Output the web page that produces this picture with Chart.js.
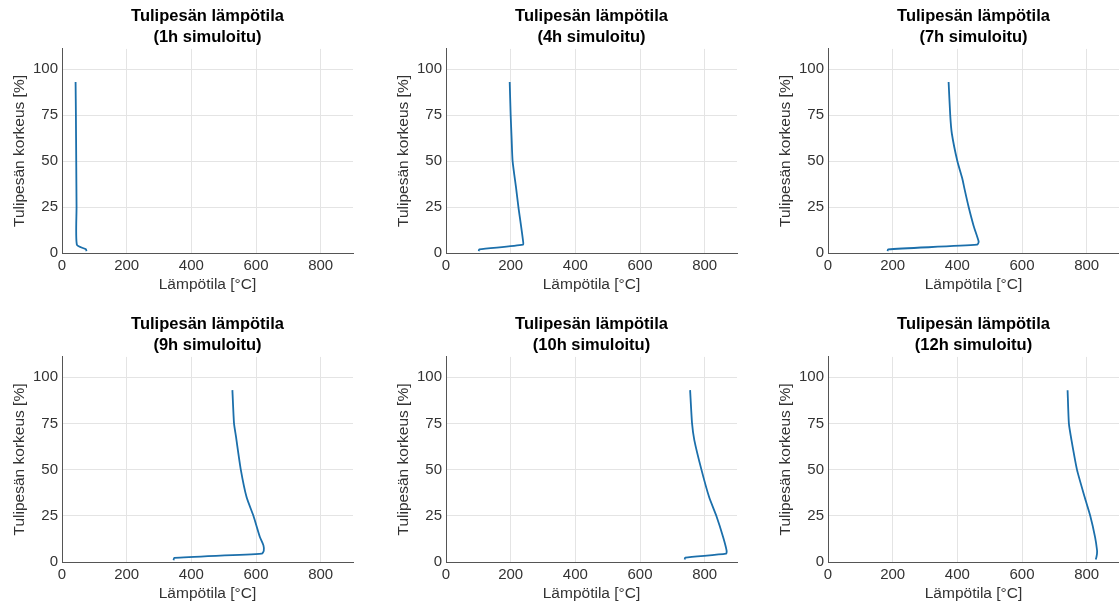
<!DOCTYPE html>
<html>
<head>
<meta charset="utf-8">
<script src="https://cdn.jsdelivr.net/npm/chart.js@4.4.1/dist/chart.umd.min.js"></script>
<style>
  html, body { margin: 0; padding: 0; background: #fff; }
  body { position: relative; width: 1119px; height: 608px; overflow: hidden; }
  canvas { position: absolute; }
</style>
</head>
<body>
<canvas id="c0"></canvas>
<canvas id="c1"></canvas>
<canvas id="c2"></canvas>
<canvas id="c3"></canvas>
<canvas id="c4"></canvas>
<canvas id="c5"></canvas>
<script>
// simulointiajat
const ajat = ["1h", "4h", "7h", "9h", "10h", "12h"];

// korkeus [%] ja lämpötila [°C] jokaiselle ajalle
const korkeus_1h = [1, 2, 4.5, 25, 50, 75, 93];
const lampo_1h   = [76, 74, 46, 45, 44, 43, 42];

const korkeus_4h = [1, 2, 4.5, 7, 25, 35, 50, 62, 75, 93];
const lampo_4h   = [101, 103, 238, 238, 224, 217, 206, 203, 200, 197];

const korkeus_7h = [1, 2, 4.5, 6, 8, 15, 25, 35, 40, 50, 65, 75, 93];
const lampo_7h   = [184, 186, 461, 466, 463, 450, 435, 422, 416, 400, 383, 378, 373];

const korkeus_9h = [1, 2.2, 4.5, 6, 9, 13.5, 25, 35, 50, 68, 75, 93];
const lampo_9h   = [345, 347, 618, 624, 623, 612, 592, 571, 553, 538, 532, 527];

const korkeus_10h = [1.3, 2.4, 4.5, 6, 13.5, 25, 35, 50, 66, 75, 93];
const lampo_10h   = [738, 740, 866, 868, 857, 836, 814, 790, 768, 761, 755];

const korkeus_12h = [1.3, 2.5, 4.5, 6.5, 13.5, 25, 35, 50, 66, 75, 93];
const lampo_12h   = [828, 830, 832, 832, 826, 811, 794, 770, 753, 745, 741];

const xTicks = [0, 200, 400, 600, 800];
const yTicks = [0, 25, 50, 75, 100];

const sarjat = [
  [korkeus_1h, lampo_1h],
  [korkeus_4h, lampo_4h],
  [korkeus_7h, lampo_7h],
  [korkeus_9h, lampo_9h],
  [korkeus_10h, lampo_10h],
  [korkeus_12h, lampo_12h],
];

const FONT = "'Liberation Sans', Arial, Helvetica, sans-serif";
const tekstiVari = "#333333";
const akseliVari = "#555555";
const ruudukko = "#e4e4e4";

// kuvaajien paikat sivulla (canvas vasen / ylä)
const vasen = [10, 394, 776];
const yla = [0, 308];
const Y_LEVEYS = 52;
const X_KORKEUS = 42;

let kaaviot = [];

function piirra_kuvaajat() {
  kaaviot.forEach(k => k.destroy());
  kaaviot = [];

  for (let i = 0; i < ajat.length; i++) {
    const canvas = document.getElementById("c" + i);
    const rivi = Math.floor(i / 3);
    const sarake = i % 3;
    canvas.width = Y_LEVEYS + 291 + 8;
    canvas.height = rivi === 0 ? 295 : 296;
    canvas.style.left = vasen[sarake] + "px";
    canvas.style.top = yla[rivi] + "px";

    const [korkeus, lampo] = sarjat[i];
    const pisteet = korkeus.map((h, j) => ({ x: lampo[j], y: h }));

    kaaviot.push(new Chart(canvas, {
      type: "scatter",
      data: {
        datasets: [{
          data: pisteet,
          showLine: true,
          borderColor: "#1b6fab",
          borderWidth: 1.8,
          pointRadius: 0,
          tension: 0.2,
        }],
      },
      options: {
        responsive: false,
        animation: false,
        layout: { padding: { left: 0, right: 8, top: 0, bottom: 0 } },
        plugins: {
          legend: { display: false },
          tooltip: { enabled: false },
          title: {
            display: true,
            fullSize: false,
            text: ["Tulipesän lämpötila", "(" + ajat[i] + " simuloitu)"],
            color: "#000",
            font: { family: FONT, size: 16.5, weight: "bold", lineHeight: 1.27 },
            padding: { top: 6, bottom: 1 },
          },
        },
        scales: {
          x: {
            type: "linear",
            min: 0,
            max: 900,
            afterBuildTicks: s => { s.ticks = xTicks.map(v => ({ value: v })); },
            afterFit: s => { s.height = X_KORKEUS; },
            ticks: { padding: 4, color: tekstiVari, font: { family: FONT, size: 15 } },
            grid: { color: ruudukko, drawTicks: false },
            border: { color: akseliVari, width: 1 },
            title: {
              display: true,
              text: "Lämpötila [°C]",
              color: tekstiVari,
              font: { family: FONT, size: 15.5 },
              padding: { top: 0, bottom: 1 },
            },
          },
          y: {
            type: "linear",
            min: 0,
            max: 111,
            afterBuildTicks: s => { s.ticks = yTicks.map(v => ({ value: v })); },
            afterFit: s => { s.width = Y_LEVEYS; },
            ticks: { padding: 4, color: tekstiVari, font: { family: FONT, size: 15 } },
            grid: { color: ruudukko, drawTicks: false },
            border: { color: akseliVari, width: 1 },
            title: {
              display: true,
              text: "Tulipesän korkeus [%]",
              color: tekstiVari,
              font: { family: FONT, size: 15.5 },
              padding: { top: 0, bottom: 0 },
            },
          },
        },
      },
    }));
  }
}

piirra_kuvaajat();
</script>
</body>
</html>
